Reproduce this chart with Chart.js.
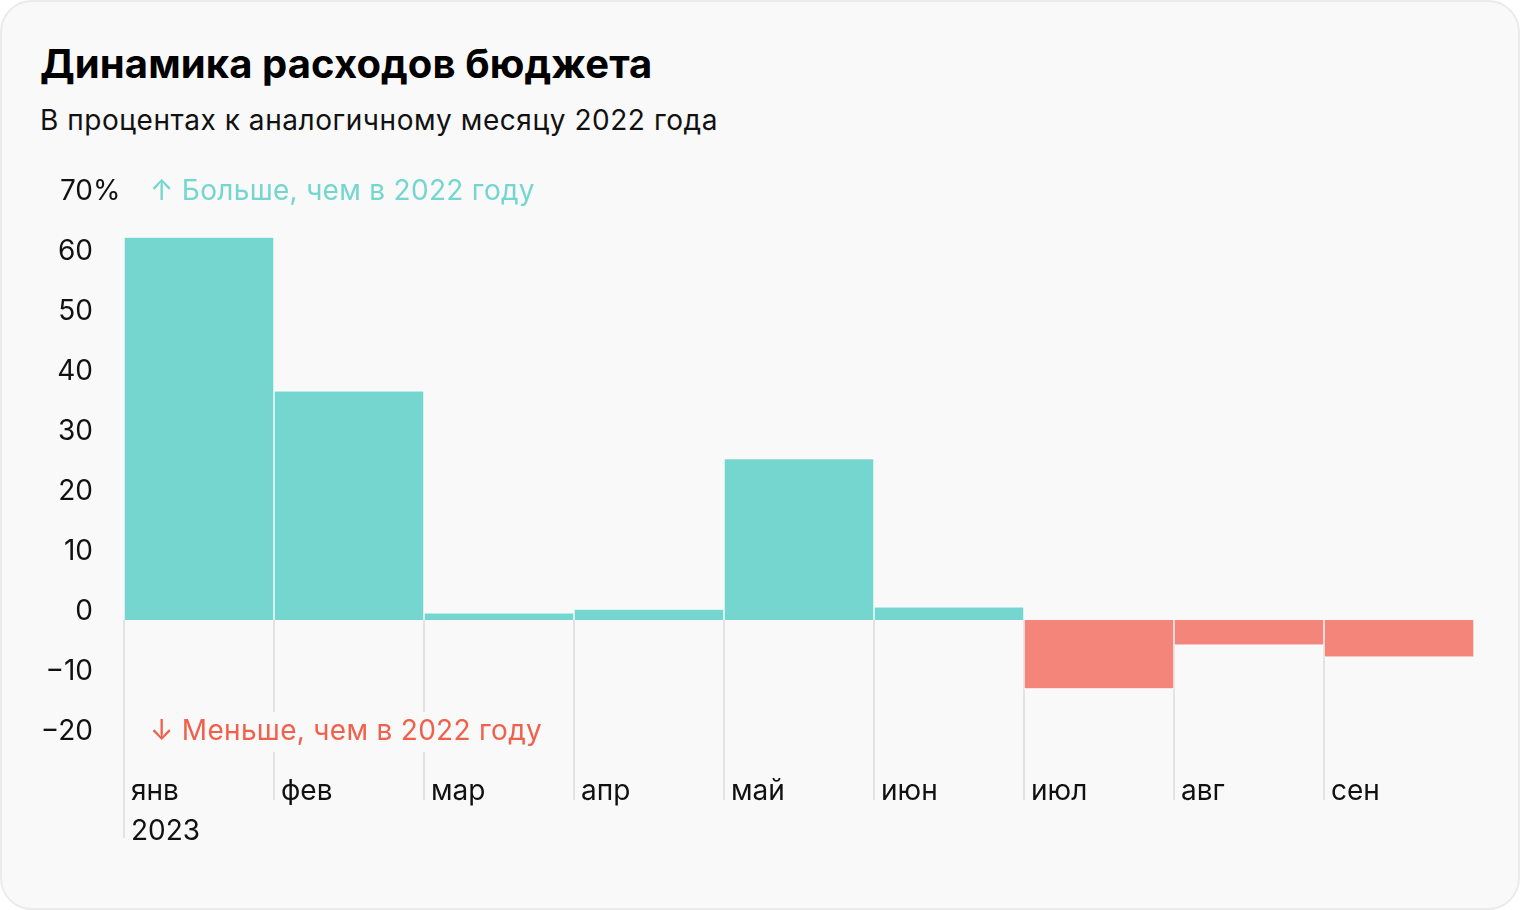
<!DOCTYPE html>
<html lang="ru">
<head>
<meta charset="utf-8">
<script src="https://cdn.jsdelivr.net/npm/chart.js@4"></script>
<style>
  html, body { margin: 0; padding: 0; background: #ffffff; }
  .card {
    position: relative;
    width: 1520px; height: 910px;
    box-sizing: border-box;
    border: 2px solid #ebebeb;
    border-radius: 32px;
    background: #f9f9f9;
    overflow: hidden;
    font-family: Inter, "Noto Sans", sans-serif;
  }
  .title {
    position: absolute; left: 38px; top: 42px;
    font-size: 40px; font-weight: 700; line-height: 1; color: #000;
    letter-spacing: 0.1px;
  }
  .subtitle {
    position: absolute; left: 38px; top: 104px;
    font-size: 28px; font-weight: 400; line-height: 1; color: #111;
    letter-spacing: 0.55px;
  }
  canvas { position: absolute; left: -2px; top: -2px; }
</style>
</head>
<body>
<div class="card">
  <div class="title">Динамика расходов бюджета</div>
  <div class="subtitle">В процентах к аналогичному месяцу 2022 года</div>
  <canvas id="chart" width="1520" height="910"></canvas>
</div>
<script>
const months = [['янв', '2023'], 'фев', 'мар', 'апр', 'май', 'июн', 'июл', 'авг', 'сен'];
const values = [63.8, 38.2, 1.2, 1.8, 26.9, 2.2, -11.5, -4.2, -6.2];
const yTicks = [70, 60, 50, 40, 30, 20, 10, 0, -10, -20];
const upLabel = '↑ Больше, чем в 2022 году';
const downLabel = '↓ Меньше, чем в 2022 году';

const TEAL = '#74d6cf';
const RED = '#f4857a';
const FONT = 'Inter, "Noto Sans", sans-serif';

// vertical separators below zero + annotations
const decor = {
  id: 'decor',
  beforeDatasetsDraw(chart) {
    const { ctx, scales: { x, y } } = chart;
    const zero = y.getPixelForValue(0);
    ctx.save();
    ctx.strokeStyle = '#e3e3e3';
    ctx.lineWidth = 2;
    months.forEach((m, i) => {
      const px = Math.round(x.getPixelForValue(i - 0.5));
      const bottom = Array.isArray(m) ? 838 : 800;
      ctx.beginPath();
      ctx.moveTo(px, zero);
      ctx.lineTo(px, bottom);
      ctx.stroke();
    });
    ctx.restore();
  },
  afterDatasetsDraw(chart) {
    const { ctx, scales: { x, y } } = chart;
    ctx.save();
    ctx.font = '28px ' + FONT;
    ctx.letterSpacing = '0.3px';
    ctx.textBaseline = 'middle';
    ctx.textAlign = 'left';
    const left = x.getPixelForValue(-0.5) + 26;

    ctx.fillStyle = TEAL;
    ctx.fillText(upLabel, left, y.getPixelForValue(70) - 8);

    const yDown = y.getPixelForValue(-20) - 8;
    const w = ctx.measureText(downLabel).width;
    ctx.fillStyle = '#f9f9f9';
    ctx.fillRect(left - 6, yDown - 20, w + 12, 40);
    ctx.fillStyle = '#f0604b';
    ctx.fillText(downLabel, left, yDown);

    // percent sign after the top tick
    ctx.letterSpacing = '0px';
    ctx.fillStyle = '#111';
    ctx.fillText('%', y.right - 31, y.getPixelForValue(70) - 8);
    ctx.restore();
  }
};

new Chart(document.getElementById('chart'), {
  type: 'bar',
  data: {
    labels: months,
    datasets: [{
      data: values,
      backgroundColor: values.map(v => v >= 0 ? TEAL : RED),
      borderColor: '#ffffff',
      borderWidth: 1,
      barPercentage: 1,
      categoryPercentage: 1,
    }],
  },
  options: {
    responsive: false,
    animation: false,
    layout: { padding: { left: 0, top: 200, right: 46, bottom: 40 } },
    plugins: { legend: { display: false }, tooltip: { enabled: false } },
    scales: {
      x: {
        grid: { display: false },
        border: { display: false },
        afterFit: (s) => { s.height = 130; },
        ticks: {
          color: '#111',
          font: { family: FONT, size: 28, lineHeight: 1.45 },
          align: 'start',
          labelOffset: -68,
          padding: 23,
          maxRotation: 0,
          autoSkip: false,
        },
      },
      y: {
        min: -20,
        max: 70,
        afterFit: (s) => { s.width = 124; },
        afterBuildTicks: (s) => { s.ticks = yTicks.map(v => ({ value: v })); },
        grid: { display: false, drawTicks: false },
        border: { display: false },
        ticks: {
          color: '#111',
          font: { family: FONT, size: 28 },
          padding: 31,
          labelOffset: -8,
          callback: (v) => v < 0 ? '\u2212' + Math.abs(v) : String(v),
        },
      },
    },
  },
  plugins: [decor],
});
</script>
</body>
</html>
